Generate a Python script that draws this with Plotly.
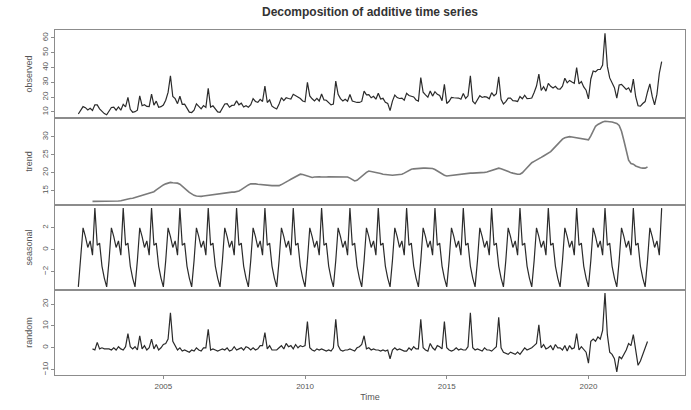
import numpy as np
import plotly.graph_objects as go
from plotly.subplots import make_subplots

# ---- time series definition (monthly, starting Jan 2002) ----
start_year = 2002
frequency = 12

# observed values, one row per year (2002 ... 2022, last year Jan-Aug)
observed = [
    8.6, 10.8, 13.6, 12.9, 11.4, 12.5, 11.0, 14.8, 14.8, 12.1, 10.6, 8.9,      # 2002
    8.1, 10.4, 13.0, 13.3, 11.2, 13.4, 11.2, 15.2, 13.4, 19.8, 11.8, 9.8,      # 2003
    10.2, 11.2, 20.9, 14.2, 14.9, 13.7, 13.6, 22.1, 14.6, 17.3, 13.2, 13.6,    # 2004
    14.7, 17.9, 23.2, 34.5, 20.4, 19.0, 15.6, 20.6, 15.2, 15.3, 12.1, 9.9,     # 2005
    9.6, 11.2, 15.5, 13.6, 12.1, 14.3, 13.1, 26.0, 13.3, 14.1, 11.6, 10.0,     # 2006
    9.8, 12.8, 15.4, 15.6, 13.2, 14.4, 14.6, 17.5, 14.8, 15.9, 13.3, 14.2,     # 2007
    13.2, 14.9, 19.0, 17.1, 16.5, 18.5, 17.1, 27.4, 16.4, 18.1, 13.9, 12.8,    # 2008
    12.0, 15.4, 19.7, 17.7, 19.6, 19.1, 18.7, 21.9, 20.9, 20.0, 19.1, 17.4,    # 2009
    16.9, 30.0, 20.8, 18.9, 17.5, 19.2, 17.4, 22.1, 18.1, 17.9, 16.4, 14.8,    # 2010
    15.4, 30.8, 21.9, 19.0, 17.4, 18.6, 17.3, 21.8, 17.4, 16.8, 16.4, 16.4,    # 2011
    17.1, 24.1, 21.6, 21.7, 19.6, 20.6, 18.6, 22.7, 18.7, 19.2, 16.5, 15.8,    # 2012
    10.9, 17.3, 21.4, 19.7, 19.1, 19.4, 17.9, 22.6, 21.1, 20.6, 20.1, 18.1,    # 2013
    17.4, 33.3, 23.3, 21.5, 20.0, 24.1, 20.7, 23.7, 21.9, 21.1, 17.6, 28.7,    # 2014
    15.7, 17.2, 19.8, 19.6, 19.7, 19.4, 18.6, 22.5, 19.1, 20.9, 34.4, 17.3,    # 2015
    15.5, 18.5, 21.0, 19.8, 20.3, 20.0, 18.9, 23.0, 20.9, 22.3, 33.8, 18.5,    # 2016
    15.4, 17.0, 19.3, 19.3, 17.6, 17.5, 17.1, 20.4, 18.9, 21.3, 19.0, 19.1,    # 2017
    19.4, 23.2, 27.5, 35.6, 24.5, 27.0, 24.1, 29.3, 27.3, 26.2, 27.3, 25.5,    # 2018
    25.4, 27.4, 32.8, 29.7, 31.3, 30.3, 29.4, 40.0, 29.0, 30.6, 26.9, 24.7,    # 2019
    18.8, 32.3, 37.7, 37.2, 38.7, 38.7, 41.7, 63.2, 40.8, 33.0, 29.7, 26.4,    # 2020
    19.4, 28.2, 28.6, 27.2, 25.2, 26.3, 23.1, 32.2, 20.3, 14.2, 13.9, 15.7,    # 2021
    17.0, 23.5, 29.0, 20.5, 14.8, 22.0, 36.0, 44.0,                            # 2022
]

# trend (centred moving average): undefined for the first and last 6 months
trend_core = [
    12.0, 12.0, 11.9, 12.0, 12.1, 12.0,                                        # 2002 Jul-Dec
    12.0, 11.9, 12.0, 12.1, 12.0, 12.1, 12.2, 12.4, 12.5, 12.7, 12.8, 12.9,    # 2003
    13.1, 13.2, 13.4, 13.5, 13.7, 13.9, 14.1, 14.3, 14.7, 15.2, 15.7, 16.2,    # 2004
    16.6, 16.9, 17.2, 17.3, 17.2, 17.2, 17.1, 16.8, 16.3, 15.7, 15.1, 14.5,    # 2005
    14.0, 13.7, 13.5, 13.4, 13.4, 13.5, 13.6, 13.7, 13.9, 14.0, 14.1, 14.1,    # 2006
    14.2, 14.3, 14.4, 14.4, 14.5, 14.6, 14.6, 14.7, 14.9, 15.3, 15.8, 16.3,    # 2007
    16.6, 16.9, 17.0, 16.9, 16.8, 16.7, 16.6, 16.6, 16.5, 16.5, 16.4, 16.4,    # 2008
    16.4, 16.4, 16.7, 17.0, 17.4, 17.8, 18.2, 18.6, 19.0, 19.4, 19.6, 19.5,    # 2009
    19.3, 19.0, 18.8, 18.7, 18.8, 18.9, 18.9, 18.8, 18.7, 18.8, 18.9, 18.9,    # 2010
    18.8, 18.8, 18.9, 18.8, 18.7, 18.8, 18.8, 18.5, 18.0, 17.7, 17.9, 18.5,    # 2011
    19.0, 19.6, 20.1, 20.5, 20.4, 20.3, 20.1, 19.9, 19.8, 19.6, 19.5, 19.4,    # 2012
    19.3, 19.3, 19.4, 19.5, 19.4, 19.6, 19.9, 20.3, 20.7, 21.0, 21.1, 21.2,    # 2013
    21.3, 21.3, 21.3, 21.3, 21.3, 21.3, 21.2, 20.9, 20.5, 20.0, 19.6, 19.3,    # 2014
    19.1, 19.2, 19.3, 19.4, 19.5, 19.6, 19.6, 19.7, 19.7, 19.8, 19.9, 19.9,    # 2015
    19.9, 20.0, 20.0, 20.1, 20.1, 20.2, 20.4, 20.7, 21.0, 21.2, 21.3, 21.1,    # 2016
    20.8, 20.5, 20.3, 20.1, 19.9, 19.7, 19.6, 19.6, 20.0, 20.7, 21.5, 22.2,    # 2017
    22.8, 23.2, 23.5, 23.9, 24.3, 24.7, 25.1, 25.5, 25.9, 26.6, 27.3, 28.1,    # 2018
    28.8, 29.4, 29.8, 30.0, 30.1, 30.0, 29.9, 29.7, 29.6, 29.5, 29.4, 29.3,    # 2019
    29.2, 30.3, 31.7, 33.0, 33.5, 33.9, 34.2, 34.4, 34.4, 34.4, 34.2, 34.0,    # 2020
    33.8, 33.2, 31.6, 29.0, 26.0, 23.5, 22.6, 22.4, 21.9, 21.6, 21.4, 21.3,    # 2021
    21.3, 21.6,                                                                # 2022 Jan-Feb
]

# seasonal figure (one value per month, Jan ... Dec)
seasonal_figure = [-3.4, -1.0, 2.0, 1.2, 0.2, 0.8, -0.5, 3.8, 0.4, 0.6, -1.5, -2.6]

x_tick_values = [2005, 2010, 2015, 2020]
panel_names = ["observed", "trend", "seasonal", "random"]
y_tick_values = [
    [10, 20, 30, 40, 50, 60],
    [15, 20, 25, 30],
    [-2, 0, 2],
    [-10, 0, 10, 20],
]

# ---- assemble the decomposition ----
n = len(observed)
half = frequency // 2
time = start_year + np.arange(n) / frequency
obs = np.array(observed, dtype=float)
trend = np.full(n, np.nan)
trend[half:half + len(trend_core)] = trend_core
season = np.array([seasonal_figure[i % frequency] for i in range(n)])
random_part = obs - trend - season

series = [obs, trend, season, random_part]

fig = make_subplots(rows=4, cols=1, shared_xaxes=True, vertical_spacing=0)

line_colors = ["#2b2b2b", "#7a7a7a", "#2b2b2b", "#2b2b2b"]
line_widths = [1.2, 1.6, 1.2, 1.2]
for i, s in enumerate(series):
    fig.add_trace(
        go.Scatter(x=time, y=s, mode="lines",
                   line=dict(color=line_colors[i], width=line_widths[i]),
                   connectgaps=False, showlegend=False, hoverinfo="skip"),
        row=i + 1, col=1)

# domains (top -> bottom)
domains = [[0.7449, 1.0], [0.4928, 0.7449], [0.2464, 0.4928], [0.0, 0.2464]]

span = time[-1] - time[0]
x_range = [time[0] - 0.04 * span, time[-1] + 0.04 * span]

axis_color = "#8c8c8c"
font_family = "Liberation Sans, Arial, sans-serif"
tick_font = dict(family=font_family, size=8, color="#555555")

for i, s in enumerate(series):
    lo, hi = np.nanmin(s), np.nanmax(s)
    pad = 0.04 * (hi - lo)
    yname = "yaxis" if i == 0 else f"yaxis{i + 1}"
    xname = "xaxis" if i == 0 else f"xaxis{i + 1}"
    fig.layout[yname].update(
        domain=domains[i], range=[lo - pad, hi + pad], automargin=False,
        showline=True, mirror=True, linecolor=axis_color, linewidth=1,
        ticks="outside", ticklen=3, tickcolor=axis_color, tickangle=-90,
        tickvals=y_tick_values[i],
        tickfont=tick_font, showgrid=False, zeroline=False,
        title=dict(text=panel_names[i], standoff=6,
                   font=dict(family=font_family, size=9, color="#555555")),
    )
    fig.layout[xname].update(
        range=x_range, automargin=False,
        showline=True, mirror=True, linecolor=axis_color, linewidth=1,
        showgrid=False, zeroline=False,
        ticks="outside" if i == 3 else "", ticklen=3, tickcolor=axis_color,
        tickvals=x_tick_values, showticklabels=(i == 3), tickfont=tick_font,
    )

fig.layout["xaxis4"].update(
    title=dict(text="Time", standoff=4, font=dict(family=font_family, size=9, color="#555555")))

fig.update_layout(
    width=691, height=410,
    margin=dict(l=55, r=6, t=30, b=35),
    paper_bgcolor="white", plot_bgcolor="white",
    title=dict(text="<b>Decomposition of additive time series</b>",
               x=0.5355, xanchor="center", y=0.972, yanchor="middle",
               font=dict(family=font_family, size=12, color="#333333")),
)

fig.write_html("out.html", config={"displayModeBar": False},
               post_script="document.body.style.margin='0';")
